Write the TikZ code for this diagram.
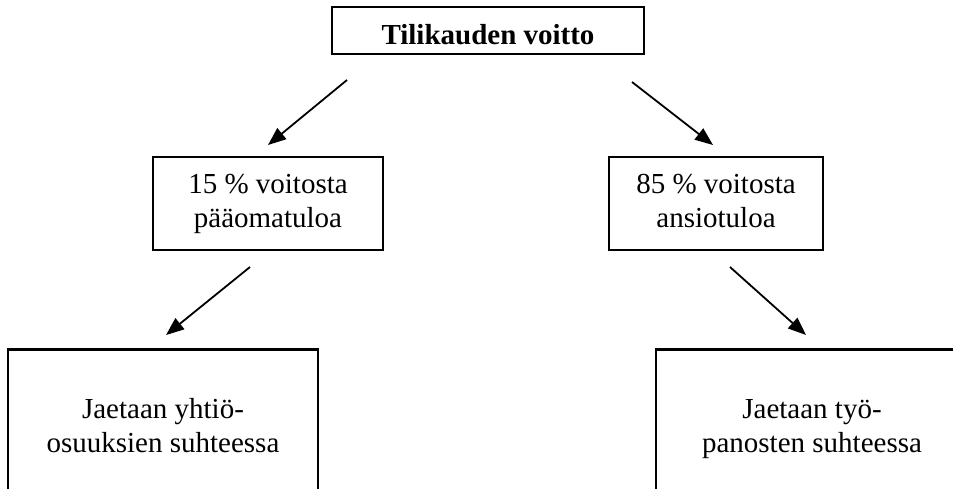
\documentclass[tikz,border=0pt]{standalone}
\usepackage{fontspec}
\setmainfont{Liberation Serif}
\usetikzlibrary{arrows.meta}
\tikzset{
  boxnode/.style={draw=black, line width=2.3pt, inner sep=0pt, align=center,
    font=\fontsize{29}{34}\selectfont},
  openbox/.style={boxnode, draw=none},
  arr/.style={line width=1.8pt, -{Triangle[length=18pt,width=14pt]}},
  edgeline/.style={line width=2.3pt}
}
\begin{document}
\begin{tikzpicture}[x=1pt,y=-1pt]
\path[use as bounding box, clip] (0,0) rectangle (953,488);
\fill[white] (0,0) rectangle (953,488);
\node[boxnode, minimum width=312pt, minimum height=47pt, text height=27pt, text depth=0pt] (top) at (488,30.5) {\textbf{Tilikauden voitto}};
\node[boxnode, minimum width=230pt, minimum height=93pt] (midl) at (268,203.5) {15 \% voitosta\strut\\pääomatuloa\strut};
\node[boxnode, minimum width=214pt, minimum height=93pt] (midr) at (716,203.5) {85 \% voitosta\strut\\ansiotuloa\strut};
\node[openbox, minimum width=308pt, minimum height=156pt] (botl) at (163,428.5) {Jaetaan yhtiö-\strut\\osuuksien suhteessa\strut};
\node[openbox, minimum width=310pt, minimum height=156pt] (botr) at (812,428.5) {Jaetaan työ-\strut\\panosten suhteessa\strut};
\draw[edgeline] (botl.south west) -- (botl.north west) -- (botl.north east) -- (botl.south east);
\draw[edgeline] (botr.south west) -- (botr.north west) -- (botr.north east) -- (botr.south east);
\coordinate (a1s) at (347,80);
\coordinate (a1e) at (268,145);
\coordinate (a2s) at (632,82);
\coordinate (a2e) at (713,145);
\coordinate (a3s) at (250,267);
\coordinate (a3e) at (166,335);
\coordinate (a4s) at (730,267);
\coordinate (a4e) at (806,335);
\draw[arr] (a1s) -- (a1e);
\draw[arr] (a2s) -- (a2e);
\draw[arr] (a3s) -- (a3e);
\draw[arr] (a4s) -- (a4e);
\end{tikzpicture}
\end{document}
